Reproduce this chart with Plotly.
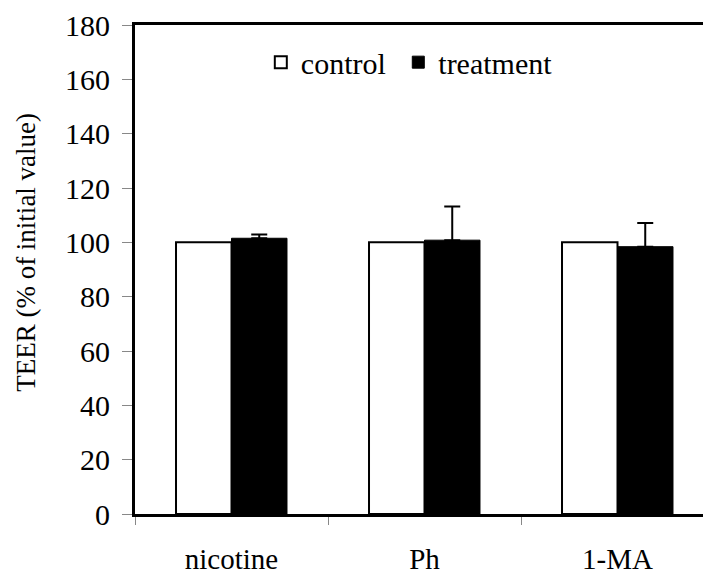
import plotly.graph_objects as go

categories = ["nicotine", "Ph", "1-MA"]
control_values = [100, 100, 100]
treatment_values = [101.5, 100.8, 98.4]
treatment_err = [1.4, 12.4, 8.7]
y_ticks = [0, 20, 40, 60, 80, 100, 120, 140, 160, 180]
y_title = "TEER (% of initial value)"
series_names = ["control\u00a0", "treatment"]

FONT = "Liberation Serif"

fig = go.Figure()
fig.add_trace(go.Bar(
    x=categories, y=control_values, name=series_names[0],
    marker=dict(color="white", line=dict(color="black", width=2)),
))
fig.add_trace(go.Bar(
    x=categories, y=treatment_values, name=series_names[1],
    marker=dict(color="black", line=dict(color="black", width=1)),
    error_y=dict(type="data", array=treatment_err, arrayminus=[0, 0, 0],
                 symmetric=False, color="black", thickness=2, width=8),
))

fig.update_layout(
    width=703, height=577,
    margin=dict(l=135, r=0, t=25, b=63),
    paper_bgcolor="white", plot_bgcolor="white",
    barmode="group", bargap=0.425, bargroupgap=0,
    font=dict(family=FONT, size=29, color="black"),
    legend=dict(orientation="h", x=0.2215, y=0.924, xanchor="left", yanchor="middle",
                font=dict(family=FONT, size=30, color="black"),
                bgcolor="rgba(0,0,0,0)", itemclick=False, tracegroupgap=0),
    showlegend=True,
    annotations=[dict(
        text=y_title, textangle=-90, xref="paper", yref="paper",
        x=-0.192, y=0.536, xanchor="center", yanchor="middle", showarrow=False,
        font=dict(family=FONT, size=27, color="black"),
    )],
)
fig.update_xaxes(
    range=[-0.5, 2.443], showline=True, linecolor="black", linewidth=3, mirror=True,
    ticks="outside", tickson="boundaries", ticklen=8, tickwidth=1, tickcolor="#888888",
    ticklabelstandoff=17, showgrid=False, zeroline=False, automargin=False,
    tickfont=dict(family=FONT, size=29, color="black"),
)
fig.update_yaxes(
    range=[0, 180], tickvals=y_ticks, showline=True, linecolor="black", linewidth=3,
    ticks="outside", ticklen=10, tickwidth=1, tickcolor="#888888",
    ticklabelstandoff=6, showgrid=False, zeroline=False, automargin=False,
    tickfont=dict(family=FONT, size=30, color="black"),
)

fig.write_html("out.html")
